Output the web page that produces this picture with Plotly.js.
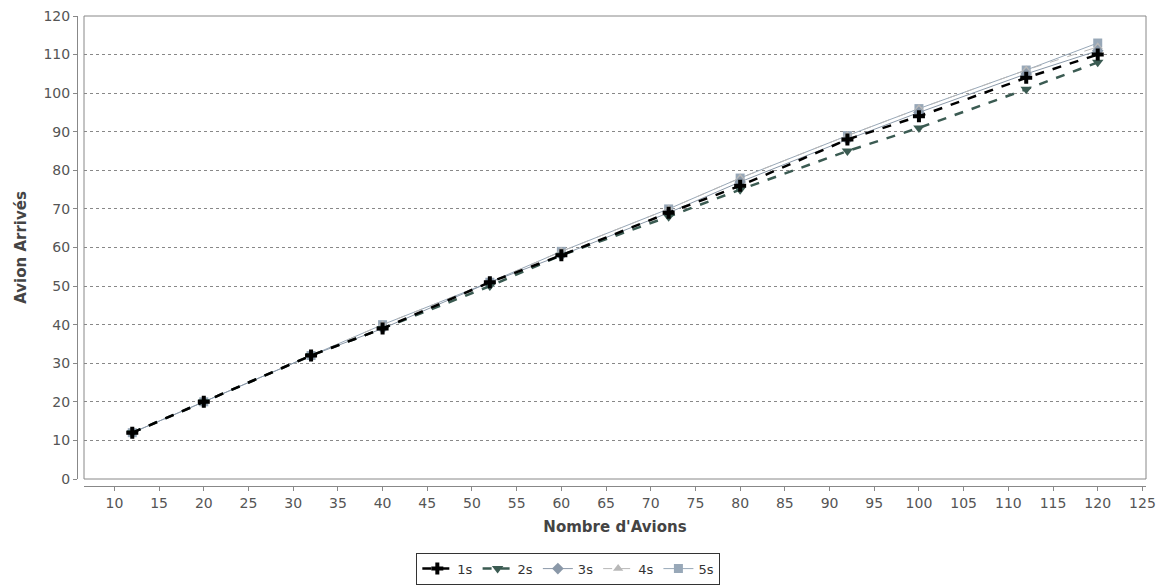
<!DOCTYPE html>
<html>
<head>
<meta charset="utf-8">
<script src="https://cdn.plot.ly/plotly-3.0.1.min.js"></script>
<style>html,body{margin:0;padding:0;background:#fff;}#chart{width:1167px;height:587px;}</style>
</head>
<body>
<div id="chart"></div>
<script>
const avions = [12, 20, 32, 40, 52, 60, 72, 80, 92, 100, 112, 120];
const s1 = [12, 20, 32, 39, 51, 58, 69, 76, 88, 94, 104, 110];
const s2 = [12, 20, 32, 39, 50, 58, 68, 75, 85, 91, 101, 108];
const s3 = [12, 20, 32, 39, 51, 58, 69, 77, 88, 95, 105, 111];
const s4 = [12, 20, 32, 40, 51, 59, 70, 78, 89, 96, 106, 112];
const s5 = [12, 20, 32, 40, 51, 59, 70, 78, 89, 96, 106, 113];
const names = ['1s', '2s', '3s', '4s', '5s'];
const xTicks = [10,15,20,25,30,35,40,45,50,55,60,65,70,75,80,85,90,95,100,105,110,115,120,125];
const yTicks = [0,10,20,30,40,50,60,70,80,90,100,110,120];

const styles = [
  {color:'#000000', dash:'dash', width:2.5, symbol:'cross', size:10},
  {color:'#3b5b52', dash:'dash', width:2.5, symbol:'triangle-down', size:10},
  {color:'#8a98a8', dash:'solid', width:1, symbol:'diamond', size:9},
  {color:'#b8b8b8', dash:'dash', width:1, symbol:'triangle-up', size:9},
  {color:'#98a8b8', dash:'solid', width:1, symbol:'square', size:9}
];
const series = [s1, s2, s3, s4, s5];
const order = [4, 3, 2, 1, 0];
const traces = order.map(i => ({
  x: avions, y: series[i], name: names[i], type: 'scatter', mode: 'lines+markers',
  line: {color: styles[i].color, dash: styles[i].dash, width: styles[i].width},
  marker: {symbol: styles[i].symbol, size: styles[i].size, color: styles[i].color},
  legendrank: i + 1
}));

const tickFont = {family: 'DejaVu Sans, sans-serif', size: 14, color: '#555'};
const layout = {
  width: 1167, height: 587,
  margin: {l: 77, r: 21, t: 16, b: 101},
  paper_bgcolor: '#fff', plot_bgcolor: '#fff',
  showlegend: true,
  legend: {orientation: 'h', x: 0.487, xanchor: 'center', xref: 'container', y: 0.004, yref: 'container', yanchor: 'bottom',
    bordercolor: '#333', borderwidth: 1, font: {family: 'DejaVu Sans, sans-serif', size: 13, color: '#333'},
    traceorder: 'normal', itemwidth: 30, tracegroupgap: 0},
  xaxis: {
    domain: [7/1069, 1], range: [6.6, 125.4], anchor: 'free', position: 0,
    tickvals: xTicks, ticktext: xTicks.map(String),
    ticks: 'outside', ticklen: 4, tickcolor: '#888', showline: true, linecolor: '#888', linewidth: 1,
    showgrid: false, zeroline: false, tickfont: tickFont,
    title: {text: "Nombre d'Avions", font: {family: 'DejaVu Sans, sans-serif', size: 15, color: '#444', weight: 'bold'}, standoff: 11}
  },
  yaxis: {
    domain: [7/470, 1], range: [0, 120], anchor: 'free', position: 0,
    tickvals: yTicks, ticktext: yTicks.map(String),
    ticks: 'outside', ticklen: 4, tickcolor: '#888', showline: true, linecolor: '#888', linewidth: 1,
    showgrid: true, gridcolor: '#888', griddash: 'dot', gridwidth: 1, zeroline: false, tickfont: tickFont,
    title: {text: 'Avion Arrivés', font: {family: 'DejaVu Sans, sans-serif', size: 15, color: '#444', weight: 'bold'}, standoff: 12}
  },
  shapes: [{type: 'rect', xref: 'x domain', yref: 'y domain', x0: 0, x1: 1, y0: 0, y1: 1,
    line: {color: '#888', width: 1}, fillcolor: 'rgba(0,0,0,0)', layer: 'above'}]
};
Plotly.newPlot('chart', traces, layout, {displayModeBar: false, staticPlot: true});
</script>
</body>
</html>
